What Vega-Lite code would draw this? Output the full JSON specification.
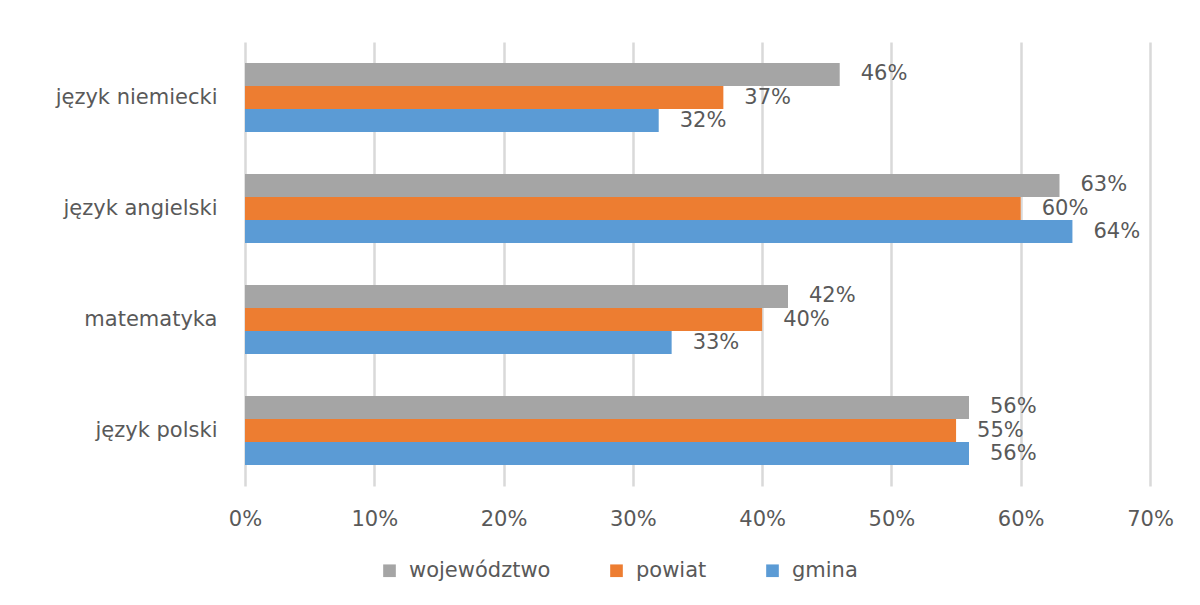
{
  "$schema": "https://vega.github.io/schema/vega-lite/v6.json",
  "width": 905,
  "height": 444,
  "autosize": {"type": "none"},
  "padding": {"left": 245, "top": 42, "right": 50, "bottom": 119},
  "background": "white",
  "data": {
    "values": [
      {"przedmiot": "język niemiecki", "poziom": "województwo", "wynik": 0.46},
      {"przedmiot": "język niemiecki", "poziom": "powiat", "wynik": 0.37},
      {"przedmiot": "język niemiecki", "poziom": "gmina", "wynik": 0.32},
      {"przedmiot": "język angielski", "poziom": "województwo", "wynik": 0.63},
      {"przedmiot": "język angielski", "poziom": "powiat", "wynik": 0.60},
      {"przedmiot": "język angielski", "poziom": "gmina", "wynik": 0.64},
      {"przedmiot": "matematyka", "poziom": "województwo", "wynik": 0.42},
      {"przedmiot": "matematyka", "poziom": "powiat", "wynik": 0.40},
      {"przedmiot": "matematyka", "poziom": "gmina", "wynik": 0.33},
      {"przedmiot": "język polski", "poziom": "województwo", "wynik": 0.56},
      {"przedmiot": "język polski", "poziom": "powiat", "wynik": 0.55},
      {"przedmiot": "język polski", "poziom": "gmina", "wynik": 0.56}
    ]
  },
  "encoding": {
    "y": {
      "field": "przedmiot",
      "type": "nominal",
      "sort": ["język niemiecki", "język angielski", "matematyka", "język polski"],
      "scale": {"paddingInner": 0.378, "paddingOuter": 0.189},
      "axis": {
        "title": null,
        "domain": false,
        "ticks": false,
        "labelPadding": 28,
        "labelFontSize": 21,
        "labelColor": "#595959",
        "labelFont": "DejaVu Sans"
      }
    },
    "yOffset": {
      "field": "poziom",
      "type": "nominal",
      "sort": ["województwo", "powiat", "gmina"],
      "scale": {"paddingInner": 0, "paddingOuter": 0}
    },
    "x": {
      "field": "wynik",
      "type": "quantitative",
      "scale": {"domain": [0, 0.7]},
      "axis": {
        "title": null,
        "format": ".0%",
        "values": [0, 0.1, 0.2, 0.3, 0.4, 0.5, 0.6, 0.7],
        "domain": false,
        "ticks": false,
        "grid": true,
        "gridColor": "#D9D9D9",
        "gridWidth": 2.5,
        "labelFlush": false,
        "labelPadding": 22,
        "labelFontSize": 21,
        "labelColor": "#595959",
        "labelFont": "DejaVu Sans"
      }
    }
  },
  "layer": [
    {
      "mark": {"type": "bar"},
      "encoding": {
        "color": {
          "field": "poziom",
          "type": "nominal",
          "sort": ["województwo", "powiat", "gmina"],
          "scale": {
            "domain": ["województwo", "powiat", "gmina"],
            "range": ["#A5A5A5", "#ED7D31", "#5B9BD5"]
          },
          "legend": {
            "title": null,
            "orient": "none",
            "direction": "horizontal",
            "legendX": 134,
            "legendY": 518,
            "symbolType": "square",
            "symbolSize": 160,
            "symbolStrokeWidth": 0,
            "labelFontSize": 21,
            "labelColor": "#595959",
            "labelFont": "DejaVu Sans",
            "labelOffset": 9,
            "columnPadding": 55
          }
        }
      }
    },
    {
      "mark": {
        "type": "text",
        "align": "left",
        "baseline": "middle",
        "dx": 21,
        "fontSize": 21,
        "font": "DejaVu Sans",
        "color": "#595959"
      },
      "encoding": {
        "text": {"field": "wynik", "type": "quantitative", "format": ".0%"}
      }
    }
  ],
  "config": {
    "view": {"stroke": null}
  }
}
